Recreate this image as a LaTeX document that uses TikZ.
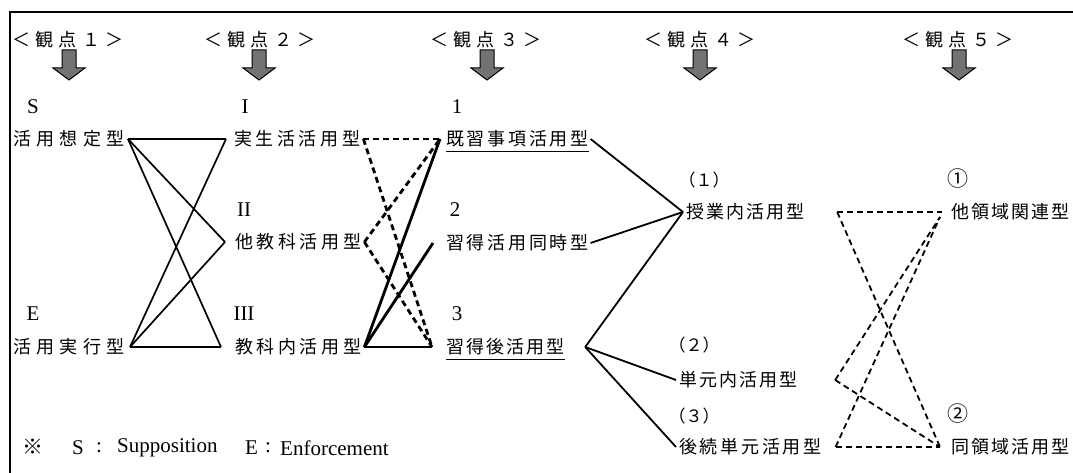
\documentclass[tikz,border=0pt]{standalone}
\usepackage{fontspec}
\setmainfont{Liberation Serif}
\newfontfamily\jpA[LetterSpace=30]{Noto Sans CJK JP}
\newfontfamily\jpB[LetterSpace=20]{Noto Sans CJK JP}
\newfontfamily\jpC[LetterSpace=15]{Noto Sans CJK JP}
\newfontfamily\jpD[LetterSpace=12]{Noto Sans CJK JP}
\newfontfamily\jpN{Noto Sans CJK JP}
\begin{document}
\begin{tikzpicture}[x=1pt,y=-1pt,
  labA/.style={anchor=west,inner sep=0pt,font=\jpA\fontsize{18}{18}\selectfont},
  labB/.style={anchor=west,inner sep=0pt,font=\jpB\fontsize{18}{18}\selectfont},
  labC/.style={anchor=west,inner sep=0pt,font=\jpC\fontsize{18}{18}\selectfont},
  labD/.style={anchor=west,inner sep=0pt,font=\jpD\fontsize{18}{18}\selectfont},
  head/.style={inner sep=0pt,font=\jpA\fontsize{18}{18}\selectfont},
  num/.style={inner sep=0pt,font=\fontsize{21}{21}\selectfont},
  fn/.style={anchor=west,inner sep=0pt,font=\fontsize{21}{21}\selectfont},
  jnum/.style={inner sep=0pt,font=\jpN\fontsize{17}{17}\selectfont},
  circ/.style={inner sep=0pt,font=\jpN\fontsize{21}{21}\selectfont},
  lineA/.style={line width=1.7pt},
  lineB/.style={line width=2.8pt},
  dashB/.style={line width=2.8pt,dash pattern=on 6pt off 4pt},
  lineC/.style={line width=1.8pt},
  dashC/.style={line width=1.8pt,dash pattern=on 6pt off 4pt},
  uline/.style={line width=1pt},
  darr/.pic={\draw[line width=1pt,fill=black!55,line join=miter]
     (-7,-15) -- (7,-15) -- (7,3) -- (16,3) -- (0,15) -- (-16,3) -- (-7,3) -- cycle;}
]
\useasboundingbox (0,0) rectangle (1073,473);
% frame
\draw[line width=1.2pt] (10,473) -- (10,12) -- (1073,12);

% headers
\node[head] (h1) at (68,40) {＜観点１＞};
\node[head] (h2) at (260,40) {＜観点２＞};
\node[head] (h3) at (486,40) {＜観点３＞};
\node[head] (h4) at (700,40) {＜観点４＞};
\node[head] (h5) at (958,40) {＜観点５＞};
\pic at (69,65) {darr};
\pic at (259,65) {darr};
\pic at (487,65) {darr};
\pic at (700,65) {darr};
\pic at (959,65) {darr};

% column 1
\node[num] (tS) at (33,107) {S};
\node[labA] (n11) at (13,139) {活用想定型};
\node[num] (tE) at (33,314) {E};
\node[labA] (n12) at (13,347) {活用実行型};
% column 2
\node[num] (tI) at (245,107) {I};
\node[labB] (n21) at (234,139) {実生活活用型};
\node[num] (tII) at (244,210) {II};
\node[labB] (n22) at (235,242) {他教科活用型};
\node[num] (tIII) at (244,314) {III};
\node[labB] (n23) at (235,347) {教科内活用型};
% column 3
\node[num] (t1) at (457,107) {1};
\node[labC] (n31) at (446,139) {既習事項活用型};
\node[num] (t2) at (455,210) {2};
\node[labC] (n32) at (446,243) {習得活用同時型};
\node[num] (t3) at (457,314) {3};
\node[labD] (n33) at (446,347) {習得後活用型};
% column 4
\node[jnum] (p1) at (704,180) {（１）};
\node[labD] (n41) at (686,212) {授業内活用型};
\node[jnum] (p2) at (694,345) {（２）};
\node[labD] (n42) at (679,380) {単元内活用型};
\node[jnum] (p3) at (694,416) {（３）};
\node[labC] (n43) at (679,447) {後続単元活用型};
% column 5
\node[circ] (c1) at (958,179) {①};
\node[labD] (n51) at (951,212) {他領域関連型};
\node[circ] (c2) at (958,414) {②};
\node[labD] (n52) at (951,447) {同領域活用型};

% footnote
\node[circ,anchor=west] (fn0) at (22,447) {※};
\node[fn] (fnS) at (72,448) {S};
\node[fn] (fnc1) at (96,448) {:};
\node[fn] (fnSup) at (117,448) {Supposition};
\node[fn] (fnE) at (245,448) {E};
\node[fn] (fnc2) at (265,448) {:};
\node[fn] (fnEnf) at (280,448) {Enforcement};

% underlines
\draw[uline] ([yshift=-4pt]n31.south west) -- ([yshift=-4pt]n31.south east);
\draw[uline] ([yshift=-4pt]n33.south west) -- ([yshift=-4pt]n33.south east);

% connection points
\coordinate (n11r) at ([xshift=3pt]n11.east);
\coordinate (n12r) at ([xshift=5pt]n12.east);
\coordinate (n21l) at ([xshift=-8pt]n21.west);
\coordinate (n22l) at ([xshift=-10pt]n22.west);
\coordinate (n23l) at ([xshift=-14pt]n23.west);
\coordinate (n21r) at ([xshift=3pt]n21.east);
\coordinate (n22r) at ([xshift=3pt]n22.east);
\coordinate (n23r) at ([xshift=3pt]n23.east);
\coordinate (n31l) at ([xshift=-6pt]n31.west);
\coordinate (n32l) at ([xshift=-13pt]n32.west);
\coordinate (n33l) at ([xshift=-14pt]n33.west);
\coordinate (n31r) at ([xshift=2pt]n31.east);
\coordinate (n32r) at ([xshift=2pt]n32.east);
\coordinate (n33r) at ([xshift=20pt]n33.east);
\coordinate (n41l) at ([xshift=-3pt]n41.west);
\coordinate (n42l) at ([xshift=-3pt]n42.west);
\coordinate (n43l) at ([xshift=-3pt]n43.west);
\coordinate (n41r) at ([xshift=32pt]n41.east);
\coordinate (n42r) at ([xshift=37pt]n42.east);
\coordinate (n43r) at ([xshift=14pt]n43.east);
\coordinate (n51l) at ([xshift=-9pt]n51.west);
\coordinate (n51d) at ([xshift=-11pt,yshift=-5pt]n51.west);
\coordinate (n52l) at ([xshift=-11pt]n52.west);

% column 1 - 2
\draw[lineA] (n11r) -- (n21l);
\draw[lineA] (n11r) -- (n22l);
\draw[lineA] (n11r) -- (n23l);
\draw[lineA] (n12r) -- (n21l);
\draw[lineA] (n12r) -- (n22l);
\draw[lineA] (n12r) -- (n23l);
% column 2 - 3
\draw[dashB] (n21r) -- (n31l);
\draw[dashB] (n21r) -- (n33l);
\draw[dashB] (n22r) -- (n31l);
\draw[dashB] (n22r) -- (n33l);
\draw[lineB] (n23r) -- (n31l);
\draw[lineB] (n23r) -- (n32l);
\draw[lineB] (n23r) -- (n33l);
% column 3 - 4
\draw[lineC] (n31r) -- (n41l);
\draw[lineC] (n32r) -- (n41l);
\draw[lineC] (n33r) -- (n41l);
\draw[lineC] (n33r) -- (n42l);
\draw[lineC] (n33r) -- (n43l);
% column 4 - 5
\draw[dashC] (n41r) -- (n51l);
\draw[dashC] (n41r) -- (n52l);
\draw[dashC] (n42r) -- (n51d);
\draw[dashC] (n42r) -- (n52l);
\draw[dashC] (n43r) -- (n51d);
\draw[dashC] (n43r) -- (n52l);
\end{tikzpicture}
\end{document}
